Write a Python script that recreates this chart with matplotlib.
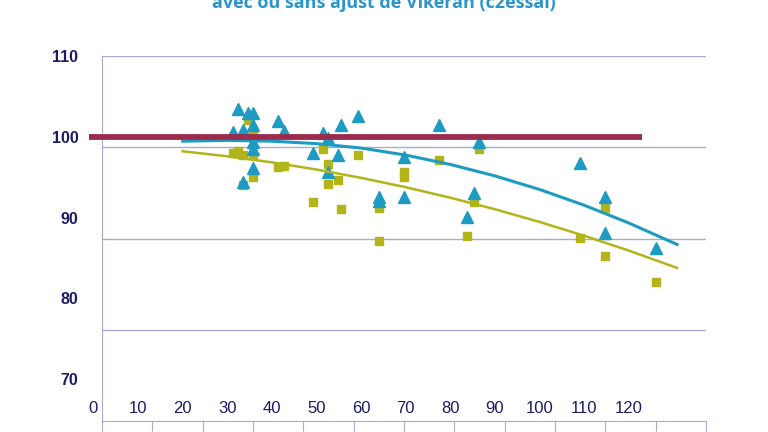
import matplotlib
matplotlib.use("Agg")
import matplotlib.pyplot as plt

# triangles (bleu)
tri_x = [31.2, 32.3, 33.5, 33.5, 34.6, 35.7, 35.7, 35.7, 35.7, 35.7,
         41.3, 42.8, 49.3, 51.5, 52.6, 52.6, 54.9, 55.5, 59.4, 64.0,
         64.0, 69.6, 69.6, 77.5, 83.8, 85.4, 86.5, 109.1, 114.7, 114.7, 126.1]
tri_y = [100.6, 103.4, 100.8, 94.4, 102.9, 102.9, 101.4, 99.4, 98.5, 96.1,
         102.0, 100.7, 98.0, 100.5, 99.8, 95.6, 97.8, 101.5, 102.6, 92.6,
         92.1, 97.5, 92.6, 101.5, 90.1, 93.0, 99.4, 96.7, 92.5, 88.1, 86.2]

# carres (olive)
sq_x = [34.6, 35.7, 31.2, 32.3, 33.5, 35.7, 35.7, 33.5, 41.3, 42.8,
        49.3, 51.5, 52.6, 52.6, 54.9, 55.5, 59.4, 64.0, 64.0, 69.6,
        69.6, 77.5, 83.8, 85.4, 86.5, 109.1, 114.7, 114.7, 126.1]
sq_y = [102.1, 100.6, 98.0, 98.2, 97.7, 97.7, 95.0, 94.0, 96.2, 96.35,
        91.9, 98.45, 96.6, 94.1, 94.6, 91.1, 97.8, 91.2, 87.1, 95.6,
        95.0, 97.1, 87.7, 91.9, 98.45, 87.5, 91.2, 85.25, 82.0]

# courbes de tendance
trend_x = [20, 30, 40, 50, 60, 70, 80, 90, 100, 110, 120, 130, 130.8]
trend_tri = [99.45, 99.55, 99.45, 99.15, 98.6, 97.73, 96.57, 95.15,
             93.47, 91.52, 89.32, 86.86, 86.66]
trend_sq = [98.2, 97.58, 96.83, 95.94, 94.91, 93.75, 92.45, 91.02,
            89.45, 87.74, 85.9, 83.92, 83.76]

ref_level = 100
ref_x = [-1, 123]

y_ticks = [70, 80, 90, 100, 110]
x_labels = list(range(0, 130, 10))

teal = "#1d9bc2"
olive = "#b2b41a"
wine = "#9b2c4e"
navy = "#1c1c66"
grid_c = "#aaaad0"

fig = plt.figure(figsize=(7.68, 4.32), dpi=100)
pos = [102 / 768, 11 / 432, 604 / 768, 365 / 432]

# fond: grille et axes de la feuille Excel
bg = fig.add_axes(pos)
bg.set_xlim(0, 12)
bg.set_ylim(0, 4)
for k in range(1, 5):
    bg.axhline(k, color=grid_c, lw=1)
for s in ["top", "right"]:
    bg.spines[s].set_visible(False)
for s in ["left", "bottom"]:
    bg.spines[s].set_color(grid_c)
bg.set_xticks(range(13))
bg.set_xticklabels([])
bg.set_yticks([])
bg.tick_params(axis="x", direction="out", length=7, color=grid_c)

# donnees
ax = fig.add_axes(pos)
ax.patch.set_visible(False)
for s in ax.spines.values():
    s.set_visible(False)
ax.set_xlim(1.91, 137.3)
ax.set_ylim(64.8, 110.0)

ax.plot(sq_x, sq_y, "s", color=olive, ms=5.5, zorder=2)
ax.plot(tri_x, tri_y, "^", color=teal, ms=8, zorder=3)

ax.plot(trend_x, trend_tri, color=teal, lw=2.2, zorder=4)
ax.plot(trend_x, trend_sq, color=olive, lw=1.8, zorder=4)

ax.plot(ref_x, [ref_level, ref_level], color=wine, lw=4.2,
        solid_capstyle="butt", zorder=5, clip_on=False)

ax.set_xticks([])
ax.set_yticks(y_ticks)
ax.set_yticklabels([str(v) for v in y_ticks], fontsize=11.5,
                   fontweight="bold", color=navy, family="Liberation Sans")
ax.tick_params(axis="y", length=0, pad=17)

for v in x_labels:
    ax.text(v, 0.033, str(v), transform=ax.get_xaxis_transform(),
            ha="center", va="center", fontsize=12, color=navy,
            family="Liberation Sans", clip_on=False)

fig.text(0.5, 1 - 8 / 432, "avec ou sans ajust de Vikeran (c2essai)",
         ha="center", va="baseline", fontsize=13, fontweight="bold",
         color="#2a96c8", family="Open Sans")

fig.savefig("out.png", dpi=100)
